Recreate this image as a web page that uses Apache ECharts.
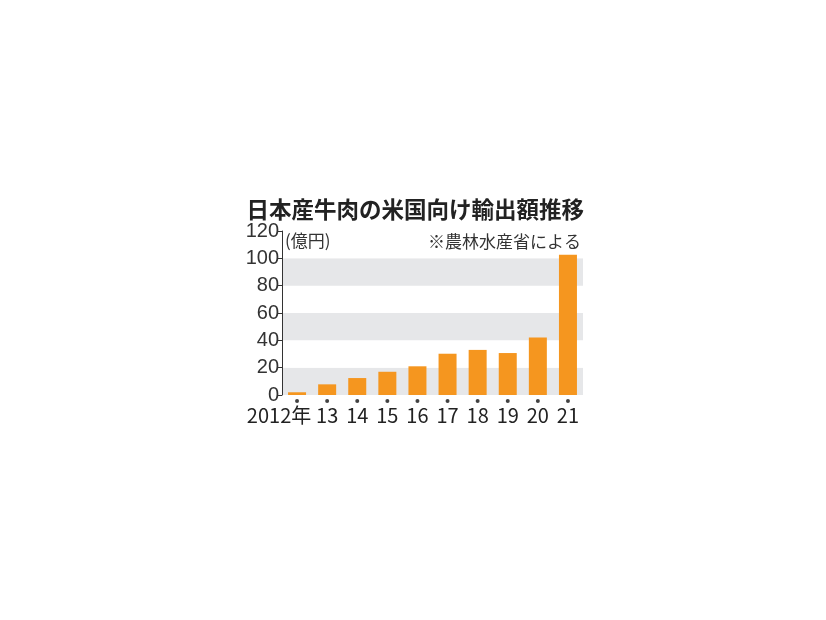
<!DOCTYPE html>
<html>
<head>
<meta charset="utf-8">
<script src="https://cdn.jsdelivr.net/npm/echarts@6/dist/echarts.min.js"></script>
<style>
  html, body { margin: 0; padding: 0; background: #fff; }
  #chart { width: 826px; height: 620px; }
</style>
</head>
<body>
<div id="chart"></div>
<script>
// 日本産牛肉の米国向け輸出額（億円）
const years = ['2012年', '13', '14', '15', '16', '17', '18', '19', '20', '21'];
const exportValues = [2, 7.8, 12.4, 17, 21, 30.2, 33, 30.7, 42, 102.6];
const yTicks = [0, 20, 40, 60, 80, 100, 120];
const dotValues = years.map(() => 0);   // 年の下の黒い点

const narrowFont = '"Liberation Sans Narrow", "Noto Sans CJK JP", sans-serif';
const yFont = '"Liberation Sans", sans-serif';
const cjkFont = '"Noto Sans CJK JP", sans-serif';

const chart = echarts.init(document.getElementById('chart'));

const option = {
  animation: false,
  title: [
    {
      text: '日本産牛肉の米国向け輸出額推移',
      right: 237,
      top: 193,
      textStyle: { fontFamily: cjkFont, fontSize: 22.5, fontWeight: 'bold', color: '#222' }
    },
    {
      text: '※農林水産省による',
      right: 240,
      top: 228,
      textStyle: { fontFamily: cjkFont, fontSize: 17, fontWeight: 'normal', color: '#333' }
    },
    {
      text: '(億円)',
      left: 280,
      top: 227,
      textStyle: { fontFamily: cjkFont, fontSize: 17, fontWeight: 'normal', color: '#333' }
    }
  ],
  grid: {
    left: 282,
    right: 243,
    top: 231,
    bottom: 225
  },
  xAxis: {
    type: 'category',
    data: years,
    axisLine: { show: false },
    axisTick: { show: false },
    axisLabel: {
      interval: 0,
      margin: 10,
      fontFamily: narrowFont,
      fontSize: 20,
      color: '#222',
      formatter: (v, i) => i === 0 ? '{first|' + v + '}' : v,
      rich: {
        first: { fontFamily: narrowFont, fontSize: 20, color: '#222', padding: [0, 36, 0, 0] }
      }
    }
  },
  yAxis: {
    type: 'value',
    min: yTicks[0],
    max: yTicks[yTicks.length - 1],
    interval: yTicks[1] - yTicks[0],
    axisLine: { show: true, lineStyle: { color: '#333', width: 1 } },
    axisTick: { show: true, length: 5, lineStyle: { color: '#333' } },
    axisLabel: { margin: 3, fontFamily: yFont, fontSize: 20, color: '#333' },
    splitLine: { show: false },
    splitArea: {
      show: true,
      areaStyle: { color: ['#e6e7e9', '#ffffff'] }
    }
  },
  series: [
    {
      name: '輸出額',
      type: 'bar',
      data: exportValues,
      barWidth: 18,
      itemStyle: { color: '#f5961f' }
    },
    {
      name: 'dot',
      type: 'scatter',
      data: dotValues,
      symbol: 'circle',
      symbolSize: 4,
      symbolOffset: [0, 6],
      itemStyle: { color: '#111' },
      silent: true,
      z: 3
    }
  ]
};

chart.setOption(option);
</script>
</body>
</html>
